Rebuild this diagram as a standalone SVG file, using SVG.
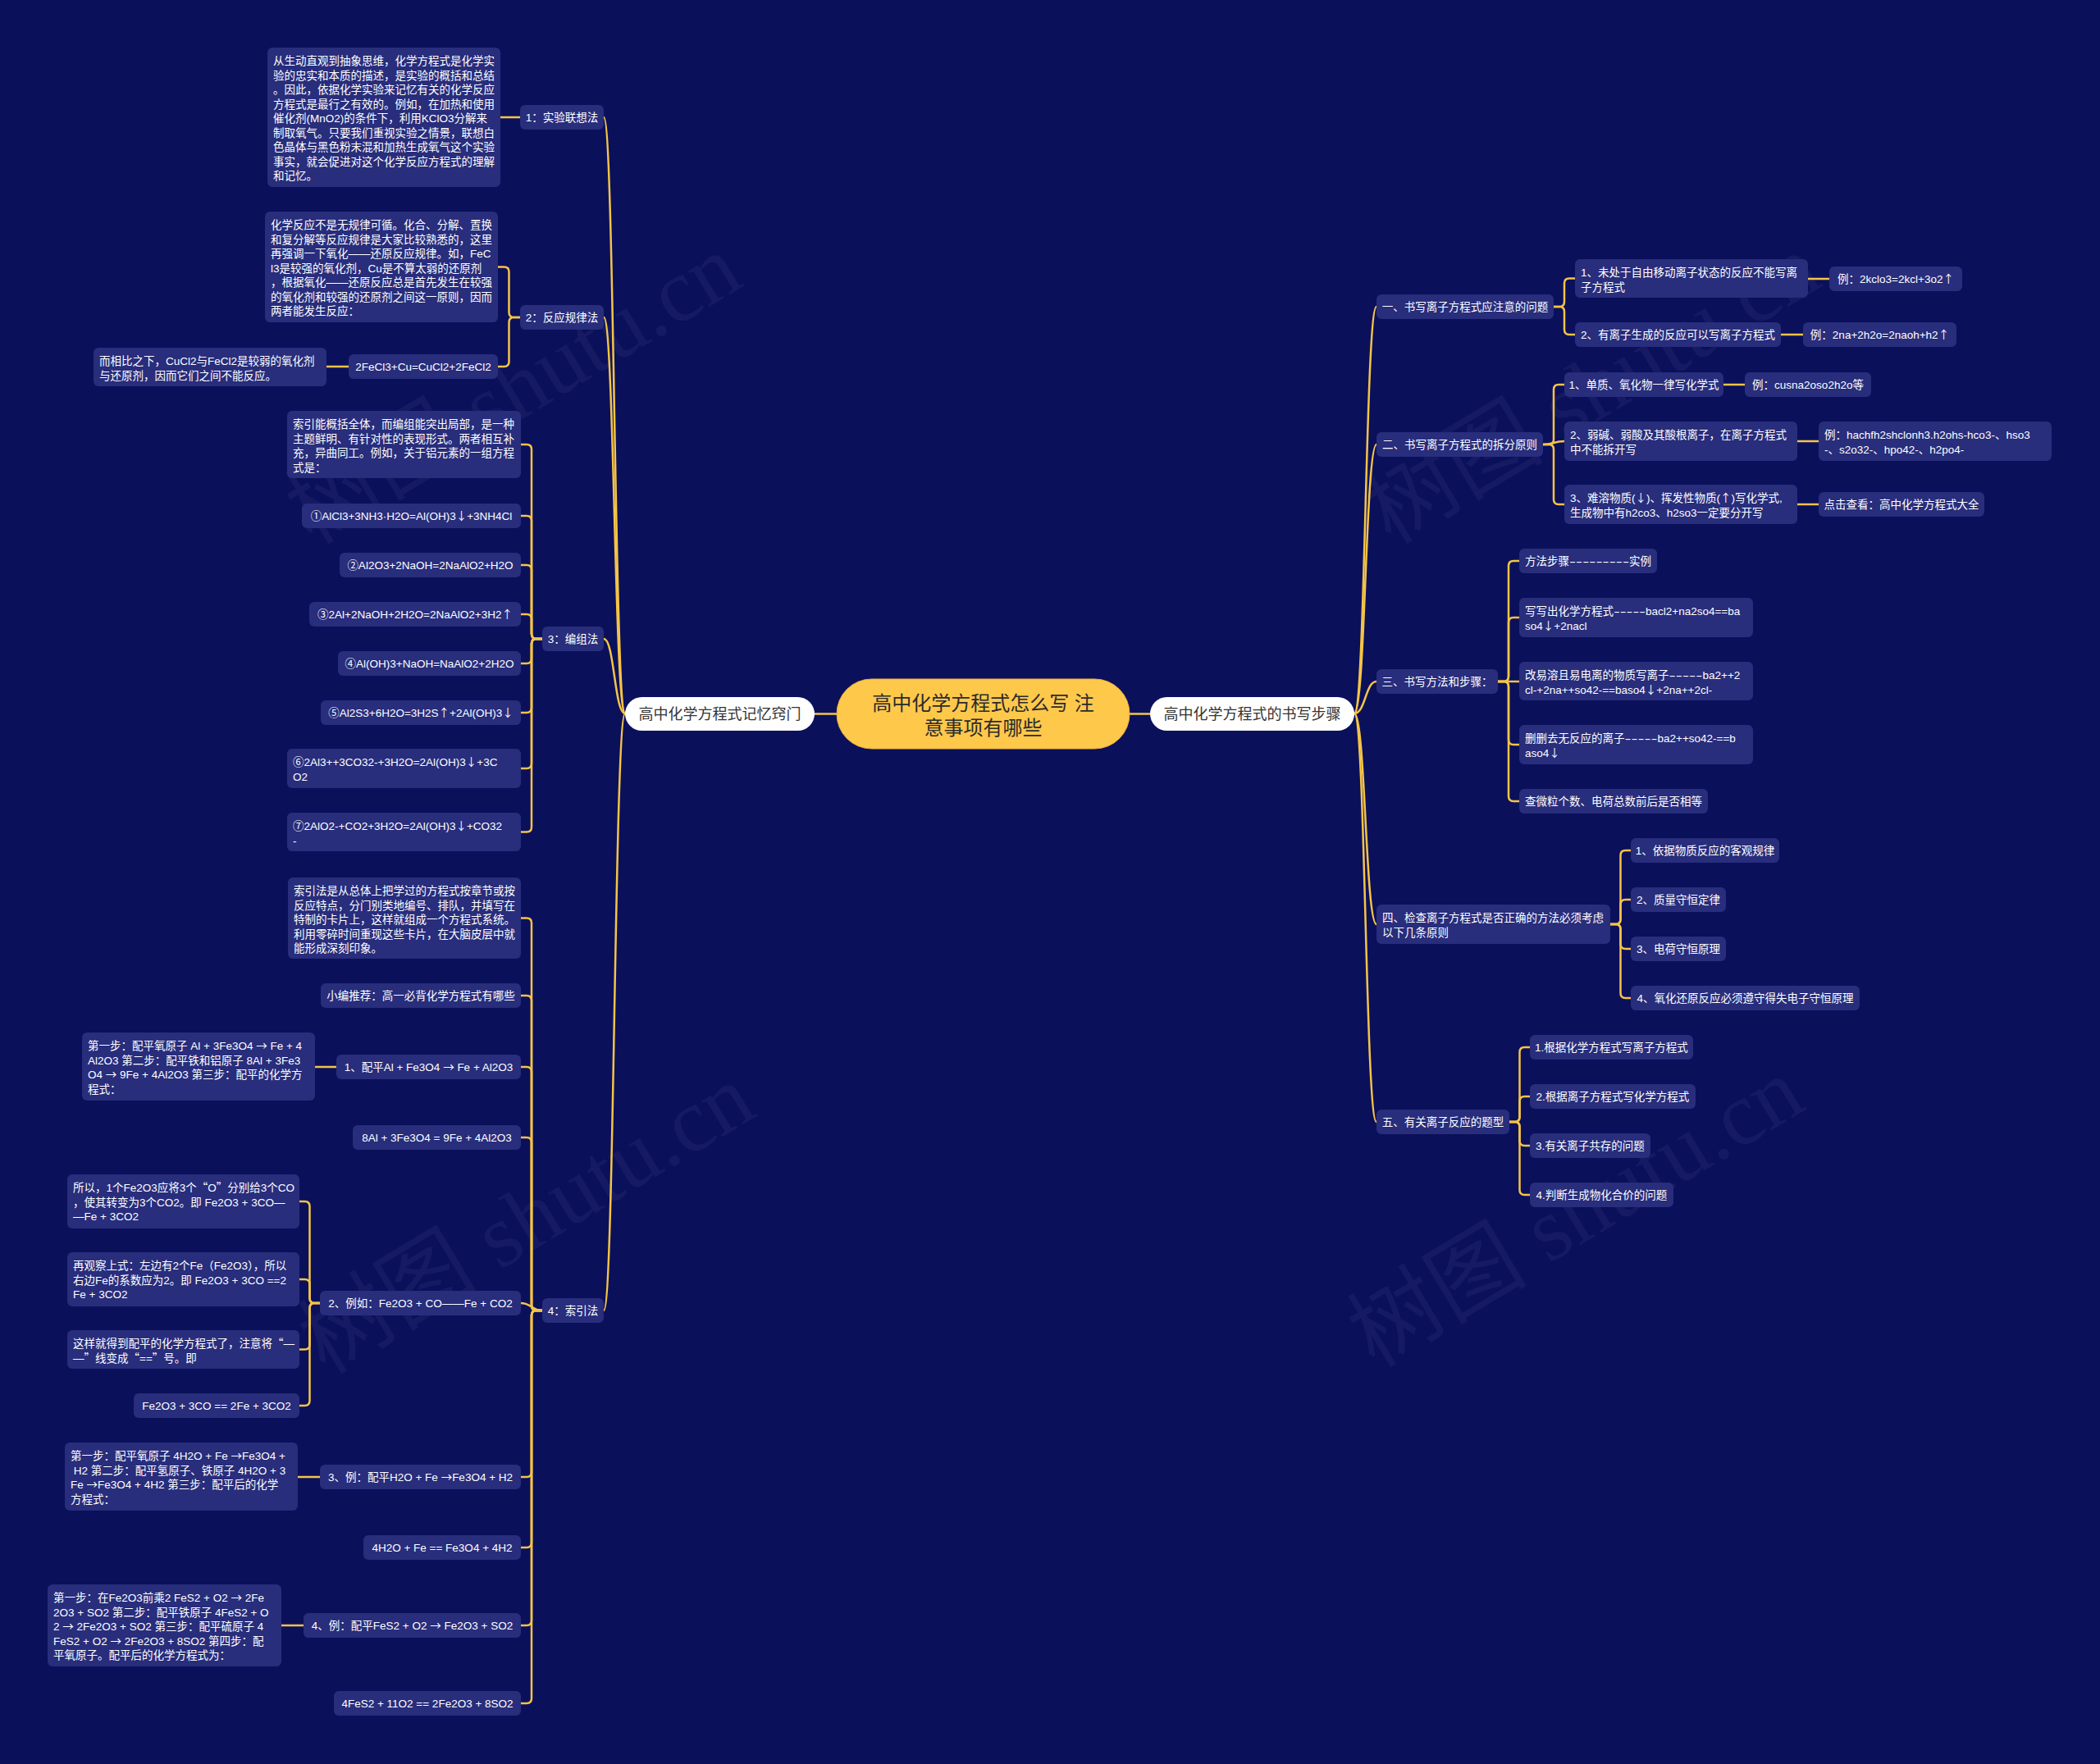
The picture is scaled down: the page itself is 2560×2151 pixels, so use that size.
<svg xmlns="http://www.w3.org/2000/svg" width="2560" height="2151" viewBox="0 0 2560 2151">
<style>
.bg{fill:#0b105b}
.wm{fill:#ffffff;fill-opacity:0.045;font-family:"Liberation Serif","Noto Sans CJK SC",serif;font-size:110px;text-anchor:middle}
.c path{fill:none;stroke:#f4c447;stroke-width:2.5;stroke-linecap:round}
.n rect{fill:#282d7c}
.t{fill:#ffffff;font-family:"Liberation Sans","Noto Sans CJK SC",sans-serif;font-size:13.5px}
.m{text-anchor:middle}
.a{font-family:"Noto Sans CJK SC",sans-serif}
.l1 rect{fill:#ffffff}
.l1 text{fill:#333333;font-family:"Liberation Sans","Noto Sans CJK SC",sans-serif;font-size:18px;text-anchor:middle}
.root rect{fill:#fec84b;stroke:#eab23a;stroke-width:1}
.root text{fill:#2b2b2b;font-family:"Liberation Sans","Noto Sans CJK SC",sans-serif;font-size:24px;text-anchor:middle}
</style>
<rect class="bg" x="0" y="0" width="2560" height="2151"/>
<g id="watermarks">
<text class="wm" x="645" y="506" transform="rotate(-31 645 506)">树图 shutu.cn</text>
<text class="wm" x="1960" y="506" transform="rotate(-31 1960 506)">树图 shutu.cn</text>
<text class="wm" x="661" y="1518" transform="rotate(-31 661 1518)">树图 shutu.cn</text>
<text class="wm" x="1940" y="1510" transform="rotate(-31 1940 1510)">树图 shutu.cn</text>
</g>
<g id="connectors" class="c">
<path d="M1020,870.5 H993"/>
<path d="M1377,870.5 H1402"/>
<path d="M762,870 C749,870 749,143 736,143"/>
<path d="M762,870 C749,870 749,387 736,387"/>
<path d="M762,870 C749,870 749,779 736,779"/>
<path d="M762,870 C749,870 749,1598 736,1598"/>
<path d="M634,143 H610"/>
<path d="M634,387 H626.5 Q620.5,387 620.5,381 V331.5 Q620.5,325.5 614.5,325.5 H607"/>
<path d="M634,387 H626.5 Q620.5,387 620.5,393 V441 Q620.5,447 614.5,447 H607"/>
<path d="M425,447 H398"/>
<path d="M661,779 H654 Q648,779 648,773 V548 Q648,542 642,542 H635"/>
<path d="M661,779 H654 Q648,779 648,773 V635 Q648,629 642,629 H635"/>
<path d="M661,779 H654 Q648,779 648,773 V695 Q648,689 642,689 H635"/>
<path d="M661,779 H654 Q648,779 648,773 V755 Q648,749 642,749 H635"/>
<path d="M661,779 H654 Q648,779 648,785 V803 Q648,809 642,809 H635"/>
<path d="M661,779 H654 Q648,779 648,785 V863 Q648,869 642,869 H635"/>
<path d="M661,779 H654 Q648,779 648,785 V931 Q648,937 642,937 H635"/>
<path d="M661,779 H654 Q648,779 648,785 V1008.5 Q648,1014.5 642,1014.5 H635"/>
<path d="M661,1598 H654 Q648,1598 648,1592 V1125.5 Q648,1119.5 642,1119.5 H635"/>
<path d="M661,1598 H654 Q648,1598 648,1592 V1220 Q648,1214 642,1214 H635"/>
<path d="M661,1598 H654 Q648,1598 648,1592 V1307 Q648,1301 642,1301 H635"/>
<path d="M661,1598 H654 Q648,1598 648,1592 V1393 Q648,1387 642,1387 H635"/>
<path d="M661,1598 C648,1598 648,1589 635,1589"/>
<path d="M661,1598 H654 Q648,1598 648,1604 V1795 Q648,1801 642,1801 H635"/>
<path d="M661,1598 H654 Q648,1598 648,1604 V1881 Q648,1887 642,1887 H635"/>
<path d="M661,1598 H654 Q648,1598 648,1604 V1976 Q648,1982 642,1982 H635"/>
<path d="M661,1598 H654 Q648,1598 648,1604 V2071 Q648,2077 642,2077 H635"/>
<path d="M410,1301 H384"/>
<path d="M390,1589 H383.5 Q377.5,1589 377.5,1583 V1471 Q377.5,1465 371.5,1465 H365"/>
<path d="M390,1589 H383.5 Q377.5,1589 377.5,1583 V1566 Q377.5,1560 371.5,1560 H365"/>
<path d="M390,1589 H383.5 Q377.5,1589 377.5,1595 V1639.5 Q377.5,1645.5 371.5,1645.5 H365"/>
<path d="M390,1589 H383.5 Q377.5,1589 377.5,1595 V1708 Q377.5,1714 371.5,1714 H365"/>
<path d="M390,1801 H363"/>
<path d="M370,1982 H343"/>
<path d="M1651,870 C1664.5,870 1664.5,374 1678,374"/>
<path d="M1651,870 C1664.5,870 1664.5,542 1678,542"/>
<path d="M1651,870 C1664.5,870 1664.5,831 1678,831"/>
<path d="M1651,870 C1664.5,870 1664.5,1127 1678,1127"/>
<path d="M1651,870 C1664.5,870 1664.5,1368 1678,1368"/>
<path d="M1894,374 H1901 Q1907,374 1907,368 V345.5 Q1907,339.5 1913,339.5 H1920"/>
<path d="M1894,374 H1901 Q1907,374 1907,380 V402 Q1907,408 1913,408 H1920"/>
<path d="M2204,340 H2230"/>
<path d="M2171,408 H2198"/>
<path d="M1881,542 H1888 Q1894,542 1894,536 V475 Q1894,469 1900,469 H1907"/>
<path d="M1881,542 C1894,542 1894,538 1907,538"/>
<path d="M1881,542 H1888 Q1894,542 1894,548 V609 Q1894,615 1900,615 H1907"/>
<path d="M2101,469 H2127"/>
<path d="M2191,538 H2217"/>
<path d="M2191,615 H2217"/>
<path d="M1826,831 H1833 Q1839,831 1839,825 V690 Q1839,684 1845,684 H1852"/>
<path d="M1826,831 H1833 Q1839,831 1839,825 V759 Q1839,753 1845,753 H1852"/>
<path d="M1826,831 H1852"/>
<path d="M1826,831 H1833 Q1839,831 1839,837 V902 Q1839,908 1845,908 H1852"/>
<path d="M1826,831 H1833 Q1839,831 1839,837 V971 Q1839,977 1845,977 H1852"/>
<path d="M1963,1127 H1969.5 Q1975.5,1127 1975.5,1121 V1043 Q1975.5,1037 1981.5,1037 H1988"/>
<path d="M1963,1127 H1969.5 Q1975.5,1127 1975.5,1121 V1103 Q1975.5,1097 1981.5,1097 H1988"/>
<path d="M1963,1127 H1969.5 Q1975.5,1127 1975.5,1133 V1151 Q1975.5,1157 1981.5,1157 H1988"/>
<path d="M1963,1127 H1969.5 Q1975.5,1127 1975.5,1133 V1211 Q1975.5,1217 1981.5,1217 H1988"/>
<path d="M1840,1368 H1846.5 Q1852.5,1368 1852.5,1362 V1283 Q1852.5,1277 1858.5,1277 H1865"/>
<path d="M1840,1368 H1846.5 Q1852.5,1368 1852.5,1362 V1343 Q1852.5,1337 1858.5,1337 H1865"/>
<path d="M1840,1368 H1846.5 Q1852.5,1368 1852.5,1374 V1391 Q1852.5,1397 1858.5,1397 H1865"/>
<path d="M1840,1368 H1846.5 Q1852.5,1368 1852.5,1374 V1451 Q1852.5,1457 1858.5,1457 H1865"/>
</g>
<g id="root" class="root"><rect x="1020" y="828" width="357" height="85" rx="42.5"/><text x="1198.5" y="865.5">高中化学方程式怎么写 注</text><text x="1198.5" y="895.5">意事项有哪些</text></g>
<g id="left-main" class="l1"><rect x="762" y="850" width="231" height="41" rx="20.5"/><text x="877.5" y="877">高中化学方程式记忆窍门</text></g>
<g id="right-main" class="l1"><rect x="1402" y="850" width="249" height="41" rx="20.5"/><text x="1526.5" y="877">高中化学方程式的书写步骤</text></g>

<g id="l-n1" class="n"><rect x="634" y="128" width="102" height="30" rx="6"/><text class="t m" x="685" y="148">1：实验联想法</text></g>
<g id="l-n1-a" class="n"><rect x="326" y="58" width="284" height="170" rx="6"/><text class="t" x="333" y="79"><tspan x="333">从生动直观到抽象思维，化学方程式是化学实</tspan><tspan x="333" dy="17.5">验的忠实和本质的描述，是实验的概括和总结</tspan><tspan x="333" dy="17.5">。因此，依据化学实验来记忆有关的化学反应</tspan><tspan x="333" dy="17.5">方程式是最行之有效的。例如，在加热和使用</tspan><tspan x="333" dy="17.5">催化剂(MnO2)的条件下，利用KClO3分解来</tspan><tspan x="333" dy="17.5">制取氧气。只要我们重视实验之情景，联想白</tspan><tspan x="333" dy="17.5">色晶体与黑色粉末混和加热生成氧气这个实验</tspan><tspan x="333" dy="17.5">事实，就会促进对这个化学反应方程式的理解</tspan><tspan x="333" dy="17.5">和记忆。</tspan></text></g>

<g id="l-n2" class="n"><rect x="634" y="372" width="102" height="30" rx="6"/><text class="t m" x="685" y="392">2：反应规律法</text></g>
<g id="l-n2-a" class="n"><rect x="323" y="258" width="284" height="135" rx="6"/><text class="t" x="330" y="279"><tspan x="330">化学反应不是无规律可循。化合、分解、置换</tspan><tspan x="330" dy="17.5">和复分解等反应规律是大家比较熟悉的，这里</tspan><tspan x="330" dy="17.5">再强调一下氧化——还原反应规律。如，FeC</tspan><tspan x="330" dy="17.5">l3是较强的氧化剂，Cu是不算太弱的还原剂</tspan><tspan x="330" dy="17.5">，根据氧化——还原反应总是首先发生在较强</tspan><tspan x="330" dy="17.5">的氧化剂和较强的还原剂之间这一原则，因而</tspan><tspan x="330" dy="17.5">两者能发生反应：</tspan></text></g>
<g id="l-n2-b" class="n"><rect x="425" y="432" width="182" height="30" rx="6"/><text class="t m" x="516" y="452">2FeCl3+Cu=CuCl2+2FeCl2</text></g>
<g id="l-n2-b1" class="n"><rect x="114" y="424" width="284" height="47" rx="6"/><text class="t" x="121" y="445"><tspan x="121">而相比之下，CuCl2与FeCl2是较弱的氧化剂</tspan><tspan x="121" dy="17.5">与还原剂，因而它们之间不能反应。</tspan></text></g>

<g id="l-n3" class="n"><rect x="661" y="764" width="75" height="30" rx="6"/><text class="t m" x="698.5" y="784">3：编组法</text></g>
<g id="l-n3-a" class="n"><rect x="350" y="501" width="285" height="82" rx="6"/><text class="t" x="357" y="522"><tspan x="357">索引能概括全体，而编组能突出局部，是一种</tspan><tspan x="357" dy="17.5">主题鲜明、有针对性的表现形式。两者相互补</tspan><tspan x="357" dy="17.5">充，异曲同工。例如，关于铝元素的一组方程</tspan><tspan x="357" dy="17.5">式是：</tspan></text></g>
<g id="l-n3-b" class="n"><rect x="368" y="614" width="267" height="30" rx="6"/><text class="t m" x="501.5" y="634">①AlCl3+3NH3·H2O=Al(OH)3<tspan class="a">↓</tspan>+3NH4Cl</text></g>
<g id="l-n3-c" class="n"><rect x="414" y="674" width="221" height="30" rx="6"/><text class="t m" x="524.5" y="694">②Al2O3+2NaOH=2NaAlO2+H2O</text></g>
<g id="l-n3-d" class="n"><rect x="377" y="734" width="258" height="30" rx="6"/><text class="t m" x="506" y="754">③2Al+2NaOH+2H2O=2NaAlO2+3H2<tspan class="a">↑</tspan></text></g>
<g id="l-n3-e" class="n"><rect x="412" y="794" width="223" height="30" rx="6"/><text class="t m" x="523.5" y="814">④Al(OH)3+NaOH=NaAlO2+2H2O</text></g>
<g id="l-n3-f" class="n"><rect x="391" y="854" width="244" height="30" rx="6"/><text class="t m" x="513" y="874">⑤Al2S3+6H2O=3H2S<tspan class="a">↑</tspan>+2Al(OH)3<tspan class="a">↓</tspan></text></g>
<g id="l-n3-g" class="n"><rect x="350" y="913" width="285" height="48" rx="6"/><text class="t" x="357" y="934"><tspan x="357">⑥2Al3++3CO32-+3H2O=2Al(OH)3<tspan class="a">↓</tspan>+3C</tspan><tspan x="357" dy="17.5">O2</tspan></text></g>
<g id="l-n3-h" class="n"><rect x="350" y="991" width="285" height="47" rx="6"/><text class="t" x="357" y="1012"><tspan x="357">⑦2AlO2-+CO2+3H2O=2Al(OH)3<tspan class="a">↓</tspan>+CO32</tspan><tspan x="357" dy="17.5">-</tspan></text></g>

<g id="l-n4" class="n"><rect x="661" y="1583" width="75" height="30" rx="6"/><text class="t m" x="698.5" y="1603">4：索引法</text></g>
<g id="l-n4-a" class="n"><rect x="351" y="1070" width="284" height="99" rx="6"/><text class="t" x="358" y="1091"><tspan x="358">索引法是从总体上把学过的方程式按章节或按</tspan><tspan x="358" dy="17.5">反应特点，分门别类地编号、排队，并填写在</tspan><tspan x="358" dy="17.5">特制的卡片上，这样就组成一个方程式系统。</tspan><tspan x="358" dy="17.5">利用零碎时间重现这些卡片，在大脑皮层中就</tspan><tspan x="358" dy="17.5">能形成深刻印象。</tspan></text></g>
<g id="l-n4-b" class="n"><rect x="391" y="1199" width="244" height="30" rx="6"/><text class="t m" x="513" y="1219">小编推荐：高一必背化学方程式有哪些</text></g>
<g id="l-n4-c" class="n"><rect x="410" y="1286" width="225" height="30" rx="6"/><text class="t m" x="522.5" y="1306">1、配平Al + Fe3O4 <tspan class="a">→</tspan> Fe + Al2O3</text></g>
<g id="l-n4-c1" class="n"><rect x="100" y="1259" width="284" height="83" rx="6"/><text class="t" x="107" y="1280"><tspan x="107">第一步：配平氧原子 Al + 3Fe3O4 <tspan class="a">→</tspan> Fe + 4</tspan><tspan x="107" dy="17.5">Al2O3 第二步：配平铁和铝原子 8Al + 3Fe3</tspan><tspan x="107" dy="17.5">O4 <tspan class="a">→</tspan> 9Fe + 4Al2O3 第三步：配平的化学方</tspan><tspan x="107" dy="17.5">程式：</tspan></text></g>
<g id="l-n4-d" class="n"><rect x="430" y="1372" width="205" height="30" rx="6"/><text class="t m" x="532.5" y="1392">8Al + 3Fe3O4 = 9Fe + 4Al2O3</text></g>
<g id="l-n4-e" class="n"><rect x="390" y="1574" width="245" height="30" rx="6"/><text class="t m" x="512.5" y="1594">2、例如：Fe2O3 + CO——Fe + CO2</text></g>
<g id="l-n4-e1" class="n"><rect x="82" y="1432" width="283" height="66" rx="6"/><text class="t" x="89" y="1453"><tspan x="89">所以，1个Fe2O3应将3个<tspan class="a">“</tspan>O<tspan class="a">”</tspan>分别给3个CO</tspan><tspan x="89" dy="17.5">，使其转变为3个CO2。即 Fe2O3 + 3CO—</tspan><tspan x="89" dy="17.5">—Fe + 3CO2</tspan></text></g>
<g id="l-n4-e2" class="n"><rect x="82" y="1527" width="283" height="66" rx="6"/><text class="t" x="89" y="1548"><tspan x="89">再观察上式：左边有2个Fe（Fe2O3），所以</tspan><tspan x="89" dy="17.5">右边Fe的系数应为2。即 Fe2O3 + 3CO ==2</tspan><tspan x="89" dy="17.5">Fe + 3CO2</tspan></text></g>
<g id="l-n4-e3" class="n"><rect x="82" y="1622" width="283" height="47" rx="6"/><text class="t" x="89" y="1643"><tspan x="89">这样就得到配平的化学方程式了，注意将<tspan class="a">“</tspan>—</tspan><tspan x="89" dy="17.5">—<tspan class="a">”</tspan>线变成<tspan class="a">“</tspan>==<tspan class="a">”</tspan>号。即</tspan></text></g>
<g id="l-n4-e4" class="n"><rect x="163" y="1699" width="202" height="30" rx="6"/><text class="t m" x="264" y="1719">Fe2O3 + 3CO == 2Fe + 3CO2</text></g>
<g id="l-n4-f" class="n"><rect x="390" y="1786" width="245" height="30" rx="6"/><text class="t m" x="512.5" y="1806">3、例：配平H2O + Fe <tspan class="a">→</tspan>Fe3O4 + H2</text></g>
<g id="l-n4-f1" class="n"><rect x="79" y="1759" width="284" height="83" rx="6"/><text class="t" x="86" y="1780" xml:space="preserve"><tspan x="86">第一步：配平氧原子 4H2O + Fe <tspan class="a">→</tspan>Fe3O4 +</tspan><tspan x="86" dy="17.5"> H2 第二步：配平氢原子、铁原子 4H2O + 3</tspan><tspan x="86" dy="17.5">Fe <tspan class="a">→</tspan>Fe3O4 + 4H2 第三步：配平后的化学</tspan><tspan x="86" dy="17.5">方程式：</tspan></text></g>
<g id="l-n4-g" class="n"><rect x="443" y="1872" width="192" height="30" rx="6"/><text class="t m" x="539" y="1892">4H2O + Fe == Fe3O4 + 4H2</text></g>
<g id="l-n4-h" class="n"><rect x="370" y="1967" width="265" height="30" rx="6"/><text class="t m" x="502.5" y="1987">4、例：配平FeS2 + O2 <tspan class="a">→</tspan> Fe2O3 + SO2</text></g>
<g id="l-n4-h1" class="n"><rect x="58" y="1932" width="285" height="100" rx="6"/><text class="t" x="65" y="1953"><tspan x="65">第一步：在Fe2O3前乘2 FeS2 + O2 <tspan class="a">→</tspan> 2Fe</tspan><tspan x="65" dy="17.5">2O3 + SO2 第二步：配平铁原子 4FeS2 + O</tspan><tspan x="65" dy="17.5">2 <tspan class="a">→</tspan> 2Fe2O3 + SO2 第三步：配平硫原子 4</tspan><tspan x="65" dy="17.5">FeS2 + O2 <tspan class="a">→</tspan> 2Fe2O3 + 8SO2 第四步：配</tspan><tspan x="65" dy="17.5">平氧原子。配平后的化学方程式为：</tspan></text></g>
<g id="l-n4-i" class="n"><rect x="407" y="2062" width="228" height="30" rx="6"/><text class="t m" x="521" y="2082">4FeS2 + 11O2 == 2Fe2O3 + 8SO2</text></g>

<g id="r-n1" class="n"><rect x="1678" y="359" width="216" height="30" rx="6"/><text class="t m" x="1786" y="379">一、书写离子方程式应注意的问题</text></g>
<g id="r-n1-a" class="n"><rect x="1920" y="316" width="284" height="47" rx="6"/><text class="t" x="1927" y="337"><tspan x="1927">1、未处于自由移动离子状态的反应不能写离</tspan><tspan x="1927" dy="17.5">子方程式</tspan></text></g>
<g id="r-n1-a1" class="n"><rect x="2230" y="325" width="162" height="30" rx="6"/><text class="t m" x="2311" y="345">例：2kclo3=2kcl+3o2<tspan class="a">↑</tspan></text></g>
<g id="r-n1-b" class="n"><rect x="1920" y="393" width="251" height="30" rx="6"/><text class="t m" x="2045.5" y="413">2、有离子生成的反应可以写离子方程式</text></g>
<g id="r-n1-b1" class="n"><rect x="2198" y="393" width="187" height="30" rx="6"/><text class="t m" x="2291.5" y="413">例：2na+2h2o=2naoh+h2<tspan class="a">↑</tspan></text></g>

<g id="r-n2" class="n"><rect x="1678" y="527" width="203" height="30" rx="6"/><text class="t m" x="1779.5" y="547">二、书写离子方程式的拆分原则</text></g>
<g id="r-n2-a" class="n"><rect x="1907" y="454" width="194" height="30" rx="6"/><text class="t m" x="2004" y="474">1、单质、氧化物一律写化学式</text></g>
<g id="r-n2-a1" class="n"><rect x="2127" y="454" width="154" height="30" rx="6"/><text class="t m" x="2204" y="474">例：cusna2oso2h2o等</text></g>
<g id="r-n2-b" class="n"><rect x="1907" y="514" width="284" height="48" rx="6"/><text class="t" x="1914" y="535"><tspan x="1914">2、弱碱、弱酸及其酸根离子，在离子方程式</tspan><tspan x="1914" dy="17.5">中不能拆开写</tspan></text></g>
<g id="r-n2-b1" class="n"><rect x="2217" y="514" width="284" height="48" rx="6"/><text class="t" x="2224" y="535"><tspan x="2224">例：hachfh2shclonh3.h2ohs-hco3-、hso3</tspan><tspan x="2224" dy="17.5">-、s2o32-、hpo42-、h2po4-</tspan></text></g>
<g id="r-n2-c" class="n"><rect x="1907" y="591" width="284" height="48" rx="6"/><text class="t" x="1914" y="612"><tspan x="1914">3、难溶物质(<tspan class="a">↓</tspan>)、挥发性物质(<tspan class="a">↑</tspan>)写化学式,</tspan><tspan x="1914" dy="17.5">生成物中有h2co3、h2so3一定要分开写</tspan></text></g>
<g id="r-n2-c1" class="n"><rect x="2217" y="600" width="202" height="30" rx="6"/><text class="t m" x="2318" y="620">点击查看：高中化学方程式大全</text></g>

<g id="r-n3" class="n"><rect x="1678" y="816" width="148" height="30" rx="6"/><text class="t m" x="1752" y="836">三、书写方法和步骤：</text></g>
<g id="r-n3-a" class="n"><rect x="1852" y="669" width="168" height="30" rx="6"/><text class="t" x="1859" y="689">方法步骤<tspan textLength="73" lengthAdjust="spacingAndGlyphs">---------</tspan>实例</text></g>
<g id="r-n3-b" class="n"><rect x="1852" y="729" width="285" height="48" rx="6"/><text class="t" x="1859" y="750"><tspan x="1859">写写出化学方程式<tspan textLength="39" lengthAdjust="spacingAndGlyphs">-----</tspan>bacl2+na2so4==ba</tspan><tspan x="1859" dy="17.5">so4<tspan class="a">↓</tspan>+2nacl</tspan></text></g>
<g id="r-n3-c" class="n"><rect x="1852" y="807" width="285" height="47" rx="6"/><text class="t" x="1859" y="828"><tspan x="1859">改易溶且易电离的物质写离子<tspan textLength="41" lengthAdjust="spacingAndGlyphs">-----</tspan>ba2++2</tspan><tspan x="1859" dy="17.5">cl-+2na++so42-==baso4<tspan class="a">↓</tspan>+2na++2cl-</tspan></text></g>
<g id="r-n3-d" class="n"><rect x="1852" y="884" width="285" height="48" rx="6"/><text class="t" x="1859" y="905"><tspan x="1859">删删去无反应的离子<tspan textLength="40" lengthAdjust="spacingAndGlyphs">-----</tspan>ba2++so42-==b</tspan><tspan x="1859" dy="17.5">aso4<tspan class="a">↓</tspan></tspan></text></g>
<g id="r-n3-e" class="n"><rect x="1852" y="962" width="230" height="30" rx="6"/><text class="t m" x="1967" y="982">查微粒个数、电荷总数前后是否相等</text></g>

<g id="r-n4" class="n"><rect x="1678" y="1103" width="285" height="48" rx="6"/><text class="t" x="1685" y="1124"><tspan x="1685">四、检查离子方程式是否正确的方法必须考虑</tspan><tspan x="1685" dy="17.5">以下几条原则</tspan></text></g>
<g id="r-n4-a" class="n"><rect x="1988" y="1022" width="181" height="30" rx="6"/><text class="t m" x="2078.5" y="1042">1、依据物质反应的客观规律</text></g>
<g id="r-n4-b" class="n"><rect x="1988" y="1082" width="116" height="30" rx="6"/><text class="t m" x="2046" y="1102">2、质量守恒定律</text></g>
<g id="r-n4-c" class="n"><rect x="1988" y="1142" width="116" height="30" rx="6"/><text class="t m" x="2046" y="1162">3、电荷守恒原理</text></g>
<g id="r-n4-d" class="n"><rect x="1988" y="1202" width="279" height="30" rx="6"/><text class="t m" x="2127.5" y="1222">4、氧化还原反应必须遵守得失电子守恒原理</text></g>

<g id="r-n5" class="n"><rect x="1678" y="1353" width="162" height="30" rx="6"/><text class="t m" x="1759" y="1373">五、有关离子反应的题型</text></g>
<g id="r-n5-a" class="n"><rect x="1865" y="1262" width="199" height="30" rx="6"/><text class="t m" x="1964.5" y="1282">1.根据化学方程式写离子方程式</text></g>
<g id="r-n5-b" class="n"><rect x="1865" y="1322" width="202" height="30" rx="6"/><text class="t m" x="1966" y="1342">2.根据离子方程式写化学方程式</text></g>
<g id="r-n5-c" class="n"><rect x="1865" y="1382" width="147" height="30" rx="6"/><text class="t m" x="1938.5" y="1402">3.有关离子共存的问题</text></g>
<g id="r-n5-d" class="n"><rect x="1865" y="1442" width="175" height="30" rx="6"/><text class="t m" x="1952.5" y="1462">4.判断生成物化合价的问题</text></g>
</svg>
